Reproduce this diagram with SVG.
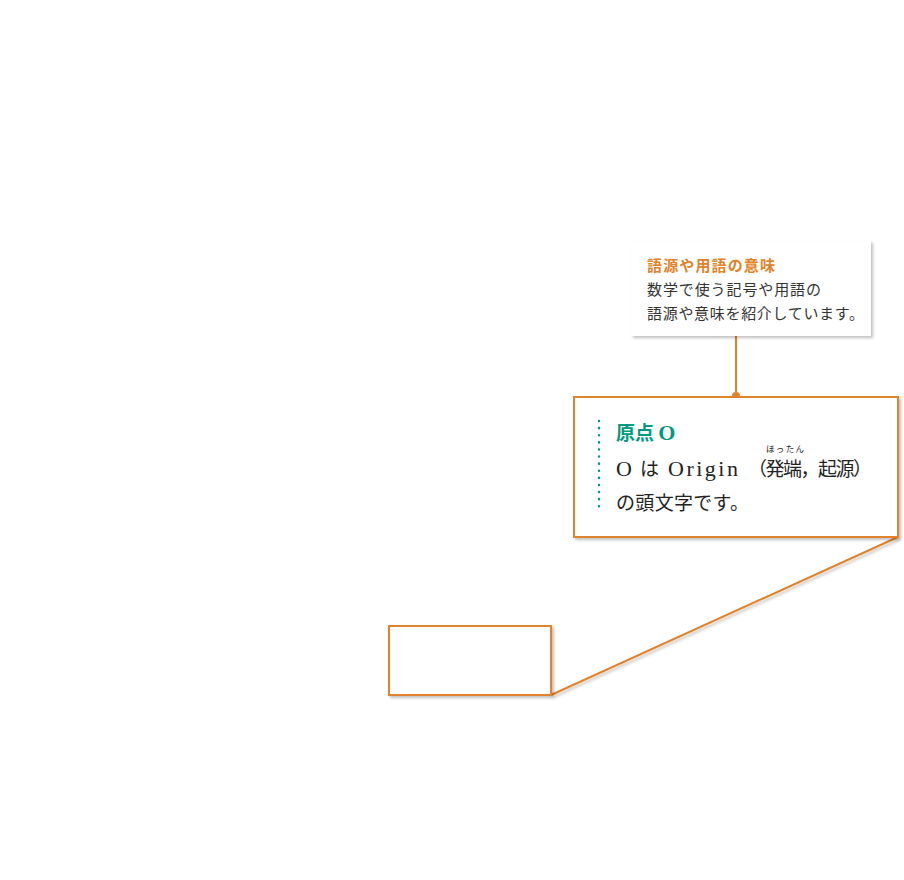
<svg xmlns="http://www.w3.org/2000/svg" width="904" height="880" viewBox="0 0 904 880">
<defs>
<filter id="sh" x="-10%" y="-10%" width="130%" height="130%"><feDropShadow dx="2" dy="2" stdDeviation="1.5" flood-color="#000" flood-opacity="0.25"/></filter>
<style>
.ob{fill:#fff;stroke:#e0832a;stroke-width:2}
.ln{stroke:#e0832a;stroke-width:2;fill:none}
.t{font-family:"Noto Sans CJK JP",sans-serif;font-size:15px;fill:#333}
.j{font-family:"Noto Sans CJK JP",sans-serif;font-size:19px;fill:#222}
.m{font-family:"Liberation Serif",serif;font-size:22px;fill:#222}
</style>
</defs>
<rect width="904" height="880" fill="#fff"/>
<g id="connectors">
<line class="ln" x1="736" y1="336" x2="736" y2="396"/>
<circle cx="736" cy="396" r="4" fill="#e0832a"/>
<line class="ln" x1="551" y1="695" x2="898" y2="537" filter="url(#sh)"/>
</g>
<g id="note">
<rect x="631" y="241" width="240" height="95" fill="#fff" filter="url(#sh)"/>
<text class="t" x="647" y="271" font-weight="bold" style="fill:#e0832a" textLength="128">語源や用語の意味</text>
<text class="t" x="647" y="295" textLength="174">数学で使う記号や用語の</text>
<text class="t" x="647" y="319" textLength="217">語源や意味を紹介しています。</text>
</g>
<g id="main">
<rect class="ob" x="574" y="397" width="324" height="140" filter="url(#sh)"/>
<line x1="599" y1="421" x2="599" y2="512" stroke="#009a82" stroke-width="2.5" stroke-dasharray="0.1 7" stroke-linecap="round"/>
<text x="616" y="440" font-family="'Noto Sans CJK JP',sans-serif" font-size="19" font-weight="bold" fill="#009a82">原点 <tspan font-family="'Liberation Serif',serif" font-size="22">O</tspan></text>
<text x="766" y="452" font-family="'Noto Sans CJK JP',sans-serif" font-size="8.5" fill="#222" textLength="38">ほったん</text>
<text class="m" x="616" y="476">O</text>
<text class="j" x="640" y="476">は</text>
<text class="m" x="668" y="476" textLength="70">Origin</text>
<text class="j" x="748" y="476" textLength="124">（発端，起源）</text>
<text class="j" x="616" y="510" textLength="133">の頭文字です。</text>
</g>
<g id="small">
<rect class="ob" x="389" y="626" width="162" height="69" filter="url(#sh)"/>
</g>
</svg>
